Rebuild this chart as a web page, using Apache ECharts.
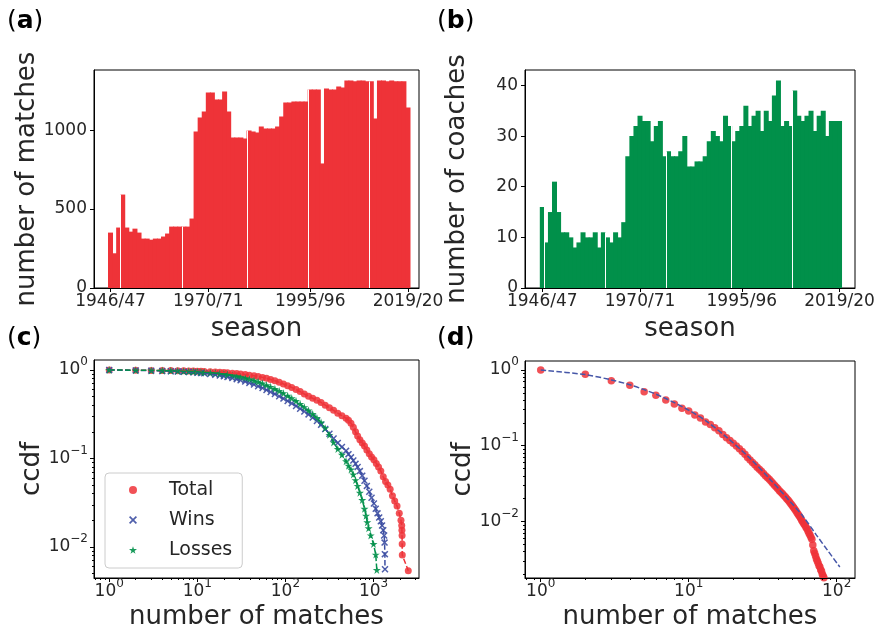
<!DOCTYPE html>
<html>
<head>
<meta charset="utf-8">
<script src="https://cdn.jsdelivr.net/npm/echarts@6/dist/echarts.min.js"></script>
<style>
  html, body { margin: 0; padding: 0; background: #fff; }
  #main { width: 878px; height: 629px; }
</style>
</head>
<body>
<div id="main"></div>
<script>
// seasons 1946/47 .. 2019/20
const seasons = [];
for (let y = 1946; y <= 2019; y++) seasons.push(y + '/' + String(y + 1).slice(2));
const seasonTicks = [0, 24, 49, 73];

// (a) matches per season
const matchesPerSeason = [351,220,383,592,383,357,376,351,313,313,306,313,313,326,345,389,389,389,389,389,
  440,991,1080,1118,1239,1239,1194,1194,1245,1118,953,953,953,947,998,991,985,1023,1010,1010,
  1010,1023,1087,1175,1175,1182,1182,1182,1182,1258,1258,1258,789,1264,1258,1258,1277,1270,1315,1315,
  1309,1315,1315,1309,1309,1074,1315,1315,1309,1315,1309,1309,1309,1144];
const matchTicks = [0, 500, 1000];
const gapsA = [2.5, 17.5, 33.5, 48.5, 63.5];

// (b) coaches per season
const coachesPerSeason = [16,9,15,21,15,11,11,10,8,9,11,10,10,11,8,11,10,9,11,10,
  13,26,30,32,34,33,33,29,32,33,26,27,26,26,27,30,24,24,25,25,
  26,29,31,30,29,34,32,29,31,32,36,32,34,35,31,35,33,38,41,32,
  33,32,39,34,33,34,35,31,34,35,30,33,33,33];
const coachTicks = [0, 10, 20, 30, 40];
const gapsB = [0.5, 15.5, 30.5, 46.5, 61.5];

// (c) ccdf of matches per coach
const totalX = [1,2,3,4,5,6,7,8,9,10,11,12,14,16,18,20,22,25,28,31,35,39,44,49,55,61,68,76,85,95,106,118,
  132,147,164,183,204,228,254,283,316,352,393,438,488,520,555,590,625,660,700,745,790,840,895,950,1010,1075,
  1140,1210,1290,1370,1455,1545,1640,1740,1850,1960,2050,2090,2100,2110,2115,2120,2480];
const totalY = [1.0,0.995,0.99,0.988,0.985,0.982,0.979,0.976,0.973,0.97,0.967,0.964,0.958,0.951,0.944,0.936,
  0.929,0.92,0.91,0.90,0.89,0.875,0.86,0.845,0.825,0.805,0.782,0.755,0.725,0.695,0.665,0.635,
  0.60,0.57,0.535,0.505,0.48,0.455,0.43,0.40,0.375,0.35,0.325,0.305,0.285,0.27,0.25,0.225,0.2,0.18,0.163,0.15,
  0.138,0.125,0.113,0.104,0.097,0.088,0.08,0.072,0.062,0.055,0.05,0.045,0.038,0.033,0.029,0.024,0.020,
  0.0175,0.0155,0.0135,0.0108,0.0081,0.0054];
const winsX = [1,2,3,4,5,6,7,8,9,10,11,12,14,16,18,20,22,25,28,31,35,39,44,49,55,61,68,76,85,95,106,118,
  132,147,164,183,204,228,254,283,316,352,393,438,488,520,555,590,625,660,700,745,
  790,840,895,950,1010,1060,1110,1160,1210,1250,1290,1320,1335,1345,1350];
const winsY = [1.0,0.99,0.983,0.976,0.969,0.962,0.955,0.948,0.94,0.932,0.924,0.916,0.90,0.883,0.866,0.85,
  0.833,0.81,0.788,0.765,0.74,0.715,0.685,0.655,0.625,0.595,0.565,0.535,0.505,0.475,0.447,0.42,
  0.392,0.365,0.34,0.315,0.29,0.265,0.24,0.215,0.19,0.168,0.15,0.135,0.122,0.112,0.103,0.095,0.087,0.08,0.072,0.064,
  0.056,0.049,0.042,0.036,0.031,0.027,0.024,0.0215,0.0195,0.0175,0.0155,0.0135,0.0112,0.0083,0.0056];
const lossesX = [1,2,3,4,5,6,7,8,9,10,11,12,14,16,18,20,22,25,28,31,35,39,44,49,55,61,68,76,85,95,106,118,
  132,147,164,183,204,228,254,283,316,352,393,438,488,520,555,590,625,660,700,745,
  790,822,850,880,930,1000,1060,1090];
const lossesY = [1.0,0.995,0.99,0.985,0.98,0.975,0.97,0.965,0.96,0.955,0.95,0.945,0.935,0.924,0.912,0.90,
  0.888,0.87,0.852,0.834,0.81,0.787,0.76,0.735,0.705,0.675,0.645,0.612,0.58,0.547,0.513,0.48,
  0.447,0.413,0.38,0.348,0.318,0.287,0.255,0.22,0.185,0.152,0.128,0.11,0.093,0.083,0.075,0.066,0.057,0.049,0.041,0.034,
  0.027,0.0225,0.019,0.0163,0.0135,0.0108,0.0082,0.0055];

// (d) ccdf, x = 1, 2, 3, ...
const dY = [1.0,0.877,0.722,0.628,0.518,0.463,0.402,0.356,0.312,0.288,0.255,0.233,0.206,0.190,0.173,0.158,0.141,0.127,0.117,0.108,
  0.099,0.091,0.084,0.077,0.070,0.065,0.060,0.056,0.052,0.049,0.046,0.043,0.040,0.038,0.036,0.034,0.032,0.030,0.0285,0.027,
  0.0255,0.0243,0.0232,0.0220,0.0210,0.0200,0.0190,0.0180,0.0171,0.0162,0.0154,0.0146,0.0138,0.0130,0.0123,0.0117,0.0111,0.0104,0.0098,0.0093,
  0.0089,0.0084,0.0080,0.0075,0.0070,0.0066,0.0062,0.0058,0.0049,0.0041,0.0038,0.0035,0.0032,0.0030,0.0028,0.0026,0.0025,0.0023,0.0022,0.0020,
  0.0019,0.0018];
const fitX = [1,2,3,4,5,6,7,8,10,13,18,26,35,46,59,73,88,105];
const fitY = [1.0,0.87,0.74,0.64,0.55,0.48,0.42,0.37,0.295,0.215,0.13,0.068,0.037,0.0205,0.0118,0.0066,0.0040,0.0025];

const RED = '#EE3338', GREEN = '#01904A', BLUE = '#3C4EA2', INK = '#262626', FONT = 'DejaVu Sans';
const X_PATH = 'path://M0,1.5L1.5,0L5,3.5L8.5,0L10,1.5L6.5,5L10,8.5L8.5,10L5,6.5L1.5,10L0,8.5L3.5,5Z';
const STAR_PATH = 'path://M5,0L6.18,3.62L10,3.62L6.91,5.86L8.09,9.5L5,7.24L1.91,9.5L3.09,5.86L0,3.62L3.82,3.62Z';

const zip = (xs, ys) => xs.map((x, i) => [x, ys[i]]);
const nameStyle = { fontSize: 26, fontFamily: FONT, color: INK };
const tickStyle = { color: '#000', width: 1 };

function powLabel(v) {
  const e = Math.round(v);
  return '{b|10}{s|' + (e < 0 ? '\u2212' + (-e) : e) + '}';
}
const powRich = {
  b: { fontSize: 17, fontFamily: FONT, color: INK, lineHeight: 28 },
  s: { fontSize: 12, fontFamily: FONT, color: INK, verticalAlign: 'top' }
};
function minorTicks(lo, hi) {
  const out = [];
  for (let k = Math.floor(lo) - 1; k <= Math.ceil(hi); k++) {
    for (let m = 2; m <= 9; m++) {
      const v = k + Math.log10(m);
      if (v > lo && v < hi) out.push(v);
    }
  }
  return out;
}

function seasonAxis(grid, min, max) {
  return {
    type: 'value', gridIndex: grid, min: min, max: max, z: 10, position: 'bottom',
    axisLine: { show: true, onZero: false, lineStyle: tickStyle },
    axisTick: { show: true, length: 4, lineStyle: tickStyle, customValues: seasonTicks },
    axisLabel: { customValues: seasonTicks, formatter: v => seasons[Math.round(v)],
      fontSize: 17, fontFamily: FONT, color: INK, margin: 5 },
    splitLine: { show: false },
    name: 'season', nameLocation: 'middle', nameGap: 28, nameTextStyle: nameStyle
  };
}
function countAxis(grid, max, ticks, name, gap) {
  return {
    type: 'value', gridIndex: grid, min: 0, max: max, z: 10, position: 'left',
    axisLine: { show: true, onZero: false, lineStyle: tickStyle },
    axisTick: { show: true, length: 4, lineStyle: tickStyle, customValues: ticks },
    axisLabel: { customValues: ticks, formatter: v => String(v),
      fontSize: 17, fontFamily: FONT, color: INK, margin: 7 },
    splitLine: { show: false },
    name: name, nameLocation: 'middle', nameGap: gap, nameTextStyle: nameStyle
  };
}
function logMain(grid, min, max, pos) {
  return { type: 'log', logBase: 10, gridIndex: grid, min: min, max: max, position: pos,
    axisLine: { show: false, onZero: false }, axisTick: { show: false },
    axisLabel: { show: false }, splitLine: { show: false } };
}
function logMajor(grid, min, max, pos, ticks, name, gap) {
  return {
    type: 'value', gridIndex: grid, min: Math.log10(min), max: Math.log10(max), position: pos, z: 10,
    axisLine: { show: true, onZero: false, lineStyle: tickStyle },
    axisTick: { show: true, length: 4, lineStyle: tickStyle, customValues: ticks },
    axisLabel: { customValues: ticks, formatter: powLabel, rich: powRich, margin: pos === 'bottom' ? 0 : 6 },
    splitLine: { show: false },
    name: name, nameLocation: 'middle', nameGap: gap, nameTextStyle: nameStyle
  };
}
function logMinor(grid, min, max, pos) {
  const lo = Math.log10(min), hi = Math.log10(max);
  return {
    type: 'value', gridIndex: grid, min: lo, max: hi, position: pos, z: 10,
    axisLine: { show: false, onZero: false },
    axisTick: { show: true, length: 2, lineStyle: tickStyle, customValues: minorTicks(lo, hi) },
    axisLabel: { show: false }, splitLine: { show: false }
  };
}
function gapLines(values, gaps) {
  return {
    silent: true, symbol: 'none', animation: false, label: { show: false },
    lineStyle: { color: '#fff', width: 1, type: 'solid' },
    data: gaps.map(g => [
      { coord: [g, 0] },
      { coord: [g, Math.max(values[Math.floor(g)], values[Math.ceil(g)])] }
    ])
  };
}

// ranges of the four panels
const cX = [0.672, 3283], cY = [0.00446, 1.297];
const dX = [0.783, 133], dYr = [0.00179, 1.315];

const gridBase = { show: true, borderColor: '#000', borderWidth: 1, backgroundColor: 'transparent', outerBoundsMode: 'none' };
const titleRich = {
  n: { fontSize: 25, fontFamily: FONT, color: '#000', fontWeight: 'normal' },
  b: { fontSize: 25, fontFamily: FONT, color: '#000', fontWeight: 'bold' }
};
const panelTitle = (letter, left, top) => ({
  text: '{n|(}{b|' + letter + '}{n|)}', left: left, top: top, padding: 0,
  textStyle: { fontWeight: 'normal', fontSize: 25, fontFamily: FONT, rich: titleRich }
});

const option = {
  animation: false,
  backgroundColor: '#fff',
  title: [panelTitle('a', 7, 9), panelTitle('b', 437, 9), panelTitle('c', 7, 326), panelTitle('d', 437, 326)],
  grid: [
    Object.assign({ left: 94, top: 70, width: 325, height: 218 }, gridBase),
    Object.assign({ left: 525, top: 70, width: 330, height: 218 }, gridBase),
    Object.assign({ left: 94, top: 360, width: 325, height: 218 }, gridBase),
    Object.assign({ left: 525, top: 361, width: 330, height: 217 }, gridBase)
  ],
  legend: {
    data: [{ name: 'Total', icon: 'circle' }, { name: 'Wins', icon: X_PATH }, { name: 'Losses', icon: STAR_PATH }],
    orient: 'vertical', left: 105, top: 473, itemWidth: 8, itemHeight: 8, itemGap: 10,
    padding: [7, 10, 8, 24], backgroundColor: 'rgba(255,255,255,0.8)',
    borderColor: '#cccccc', borderWidth: 1, borderRadius: 4, selectedMode: false,
    textStyle: { fontSize: 19, fontFamily: FONT, color: INK, lineHeight: 20, padding: [0, 0, 0, 27] }
  },
  xAxis: [
    seasonAxis(0, -4.05, 75.7),
    seasonAxis(1, -4.25, 76.8),
    logMain(2, cX[0], cX[1], 'bottom'),
    logMajor(2, cX[0], cX[1], 'bottom', [0, 1, 2, 3], 'number of matches', 26),
    logMinor(2, cX[0], cX[1], 'bottom'),
    logMain(3, dX[0], dX[1], 'bottom'),
    logMajor(3, dX[0], dX[1], 'bottom', [0, 1, 2], 'number of matches', 26),
    logMinor(3, dX[0], dX[1], 'bottom')
  ],
  yAxis: [
    countAxis(0, 1381, matchTicks, 'number of matches', 52),
    countAxis(1, 43.05, coachTicks, 'number of coaches', 55),
    logMain(2, cY[0], cY[1], 'left'),
    logMajor(2, cY[0], cY[1], 'left', [-2, -1, 0], 'ccdf', 42),
    logMinor(2, cY[0], cY[1], 'left'),
    logMain(3, dYr[0], dYr[1], 'left'),
    logMajor(3, dYr[0], dYr[1], 'left', [-2, -1, 0], 'ccdf', 42),
    logMinor(3, dYr[0], dYr[1], 'left')
  ],
  series: [
    { type: 'bar', xAxisIndex: 0, yAxisIndex: 0, barWidth: 5,
      data: matchesPerSeason.map((v, i) => [i, v]), itemStyle: { color: RED },
      markLine: gapLines(matchesPerSeason, gapsA) },
    { type: 'bar', xAxisIndex: 1, yAxisIndex: 1, barWidth: 5,
      data: coachesPerSeason.map((v, i) => [i, v]), itemStyle: { color: GREEN },
      markLine: gapLines(coachesPerSeason, gapsB) },

    { type: 'line', name: 'Total-line', xAxisIndex: 2, yAxisIndex: 2, data: zip(totalX, totalY),
      symbol: 'none', lineStyle: { color: RED, width: 1.5, type: [5.5, 2.4] } },
    { type: 'scatter', name: 'Total', xAxisIndex: 2, yAxisIndex: 2, data: zip(totalX, totalY),
      symbol: 'circle', symbolSize: 7, itemStyle: { color: RED, opacity: 0.85 } },
    { type: 'line', name: 'Wins-line', xAxisIndex: 2, yAxisIndex: 2, data: zip(winsX, winsY),
      symbol: 'none', lineStyle: { color: BLUE, width: 1.5, type: [5.5, 2.4] } },
    { type: 'scatter', name: 'Wins', xAxisIndex: 2, yAxisIndex: 2, data: zip(winsX, winsY),
      symbol: X_PATH, symbolSize: 7, itemStyle: { color: BLUE, opacity: 0.9 } },
    { type: 'line', name: 'Losses-line', xAxisIndex: 2, yAxisIndex: 2, data: zip(lossesX, lossesY),
      symbol: 'none', lineStyle: { color: GREEN, width: 1.5, type: [5.5, 2.4] } },
    { type: 'scatter', name: 'Losses', xAxisIndex: 2, yAxisIndex: 2, data: zip(lossesX, lossesY),
      symbol: STAR_PATH, symbolSize: 8, itemStyle: { color: GREEN, opacity: 0.9 } },

    { type: 'scatter', name: 'ccdf', xAxisIndex: 5, yAxisIndex: 5, data: dY.map((v, i) => [i + 1, v]),
      symbol: 'circle', symbolSize: 7.5, itemStyle: { color: RED, opacity: 0.85 } },
    { type: 'line', name: 'fit', xAxisIndex: 5, yAxisIndex: 5, data: zip(fitX, fitY), smooth: 0.3,
      symbol: 'none', lineStyle: { color: '#4657A8', width: 1.5, type: [5.5, 2.4] }, z: 3 }
  ]
};

const chart = echarts.init(document.getElementById('main'), null, { renderer: 'canvas' });
chart.setOption(option);
</script>
</body>
</html>
